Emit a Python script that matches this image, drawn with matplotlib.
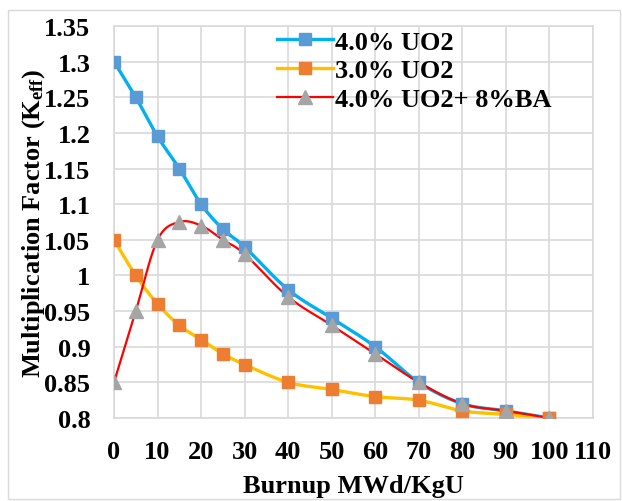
import numpy as np
import matplotlib
matplotlib.use('Agg')
import matplotlib.pyplot as plt
from matplotlib.patches import Rectangle

plt.rcParams['font.family'] = 'Liberation Serif'
plt.rcParams['font.weight'] = 'bold'
plt.rcParams['mathtext.fontset'] = 'custom'
plt.rcParams['mathtext.rm'] = 'Liberation Serif:bold'
plt.rcParams['mathtext.it'] = 'Liberation Serif:bold'
plt.rcParams['mathtext.bf'] = 'Liberation Serif:bold'

burnup = [0, 5, 10, 15, 20, 25, 30, 40, 50, 60, 70, 80, 90, 100]
uo2_40 = [1.30, 1.25, 1.195, 1.15, 1.10, 1.065, 1.04, 0.98, 0.94, 0.90, 0.85, 0.82, 0.81, 0.80]
uo2_30 = [1.05, 1.00, 0.96, 0.93, 0.91, 0.89, 0.875, 0.85, 0.84, 0.83, 0.825, 0.81, 0.805, 0.80]
uo2_ba = [0.85, 0.95, 1.05, 1.075, 1.07, 1.05, 1.03, 0.97, 0.93, 0.89, 0.85, 0.82, 0.81, 0.80]
labels = ['4.0% UO2', '3.0% UO2', '4.0% UO2+ 8%BA']
xticks = list(range(0, 111, 10))
yticks = [0.8, 0.85, 0.9, 0.95, 1.0, 1.05, 1.1, 1.15, 1.2, 1.25, 1.3, 1.35]

FS = 19


def smooth(x, y, n=20):
    # excel style smoothed line (cardinal bezier through the points)
    x = np.asarray(x, float)
    y = np.asarray(y, float)
    px = np.concatenate([[x[0]], x, [x[-1]]])
    py = np.concatenate([[y[0]], y, [y[-1]]])
    xs, ys = [], []
    t = np.linspace(0, 1, n)
    for i in range(1, len(px) - 2):
        p0 = np.array([px[i], py[i]])
        p3 = np.array([px[i + 1], py[i + 1]])
        p1 = p0 + (np.array([px[i + 1], py[i + 1]]) - np.array([px[i - 1], py[i - 1]])) / 6
        p2 = p3 - (np.array([px[i + 2], py[i + 2]]) - np.array([px[i], py[i]])) / 6
        b = ((1 - t) ** 3)[:, None] * p0 + (3 * (1 - t) ** 2 * t)[:, None] * p1 \
            + (3 * (1 - t) * t ** 2)[:, None] * p2 + (t ** 3)[:, None] * p3
        xs.extend(b[:, 0])
        ys.extend(b[:, 1])
    return xs, ys


fig = plt.figure(figsize=(6.22, 5.02), dpi=100)
fig.patches.append(Rectangle((8 / 622, 2 / 502), 612 / 622, 489 / 502, transform=fig.transFigure,
                             fill=False, edgecolor='#d9d9d9', linewidth=1))
ax = fig.add_axes([114 / 622, 83 / 502, 479 / 622, 392 / 502])

series = [
    (uo2_40, '#00b0f0', '#5b9bd5', 's', 2.4, 9),
    (uo2_30, '#ffc000', '#ed7d31', 's', 2.4, 9),
    (uo2_ba, '#ff0000', '#a5a5a5', '^', 1.6, 10.5),
]
for (vals, lc, mc, mk, lw, ms), lab in zip(series, labels):
    sx, sy = smooth(burnup, vals)
    ax.plot(sx, sy, color=lc, linewidth=lw, zorder=3)
    ax.plot(burnup, vals, linestyle='none', marker=mk, markersize=ms,
            markerfacecolor=mc, markeredgecolor=mc, zorder=4)
    ax.plot([], [], color=lc, linewidth=lw, marker=mk, markersize=ms,
            markerfacecolor=mc, markeredgecolor=mc, label=lab)

ax.set_xlim(0, 110)
ax.set_ylim(0.8, 1.35)
ax.set_xticks(xticks)
ax.set_yticks(yticks)
ax.set_yticklabels([('%g' % v) for v in yticks])
ax.grid(True, color='#d9d9d9', linewidth=1.2)
ax.set_axisbelow(True)
for s in ax.spines.values():
    s.set_color('#d9d9d9')
    s.set_linewidth(1.2)
ax.tick_params(length=0, labelsize=FS, pad=16)
ax.tick_params(axis='y', pad=17)
for t in ax.get_xticklabels() + ax.get_yticklabels():
    t.set_fontweight('bold')

ax.set_xlabel('Burnup MWd/KgU', fontsize=FS, fontweight='bold', labelpad=8)
ax.set_ylabel(r'Multiplication Factor (K$_{\mathrm{eff}}$)', fontsize=FS, fontweight='bold', labelpad=-2)

leg = ax.legend(loc='upper left', bbox_to_anchor=(0.308, 1.03), frameon=False,
                prop={'family': 'Liberation Serif', 'weight': 'bold', 'size': FS},
                handlelength=2.1, handletextpad=0.1, labelspacing=0.2, borderaxespad=0.2)

fig.savefig('out.png', dpi=100)
